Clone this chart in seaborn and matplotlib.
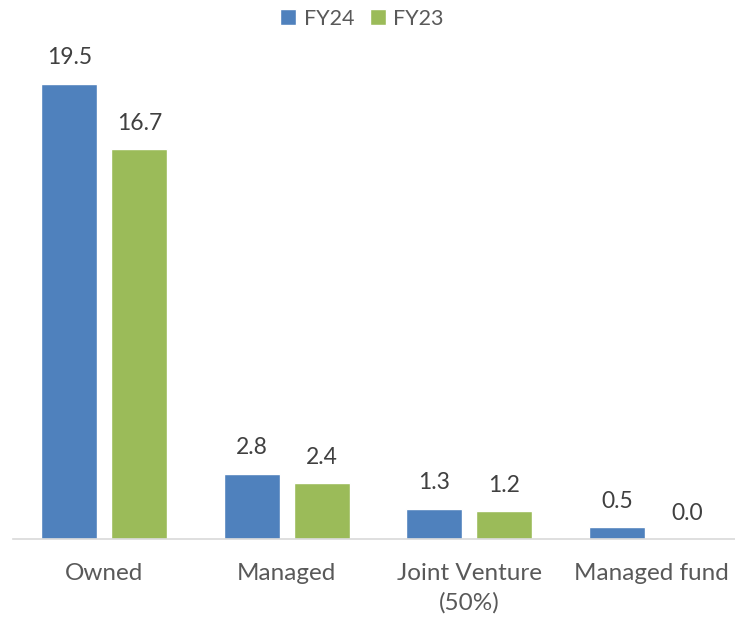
import pandas as pd
import seaborn as sns
import matplotlib.pyplot as plt

# chart values
categories = ['Owned', 'Managed', 'Joint Venture\n(50%)', 'Managed fund']
fy24_values = [19.5, 2.8, 1.3, 0.5]
fy23_values = [16.7, 2.4, 1.2, 0.0]
series_names = ['FY24', 'FY23']
series_colors = ['#4F81BD', '#9BBB59']

df = pd.DataFrame({
    'category': categories * 2,
    'value': fy24_values + fy23_values,
    'series': [series_names[0]] * 4 + [series_names[1]] * 4,
})

sns.set_style('white')
plt.rcParams['font.family'] = ['Lato', 'DejaVu Sans']

fig = plt.figure(figsize=(7.35, 6.2), dpi=100)
ax = fig.add_axes([13 / 735, 81 / 620, 730 / 735, 502 / 620])

sns.barplot(data=df, x='category', y='value', hue='series', order=categories,
            hue_order=series_names, palette=series_colors, width=0.767, gap=0.2,
            saturation=1, ax=ax, legend=True)

ax.set_ylim(0, 21.5)
ax.set_xlim(-0.5, 3.5)
ax.set_xlabel('')
ax.set_ylabel('')
ax.set_yticks([])
ax.tick_params(axis='x', length=0, pad=17, labelsize=17.5, labelcolor='#595959')
for lbl in ax.get_xticklabels():
    lbl.set_linespacing(1.5)
for side in ['top', 'right', 'left']:
    ax.spines[side].set_visible(False)
ax.spines['bottom'].set_color('#D9D9D9')
ax.spines['bottom'].set_linewidth(1.2)

for container in ax.containers:
    ax.bar_label(container, fmt='%.1f', padding=11, fontsize=16.5, color='#404040')

ax.legend(loc='upper center', bbox_to_anchor=(0.5 - 16 / 730, 1.095), ncol=2, frameon=False,
          fontsize=15.5, labelcolor='#595959', handlelength=0.75, handleheight=0.75,
          handletextpad=0.35, columnspacing=0.7)

fig.savefig('out.png', dpi=100)
